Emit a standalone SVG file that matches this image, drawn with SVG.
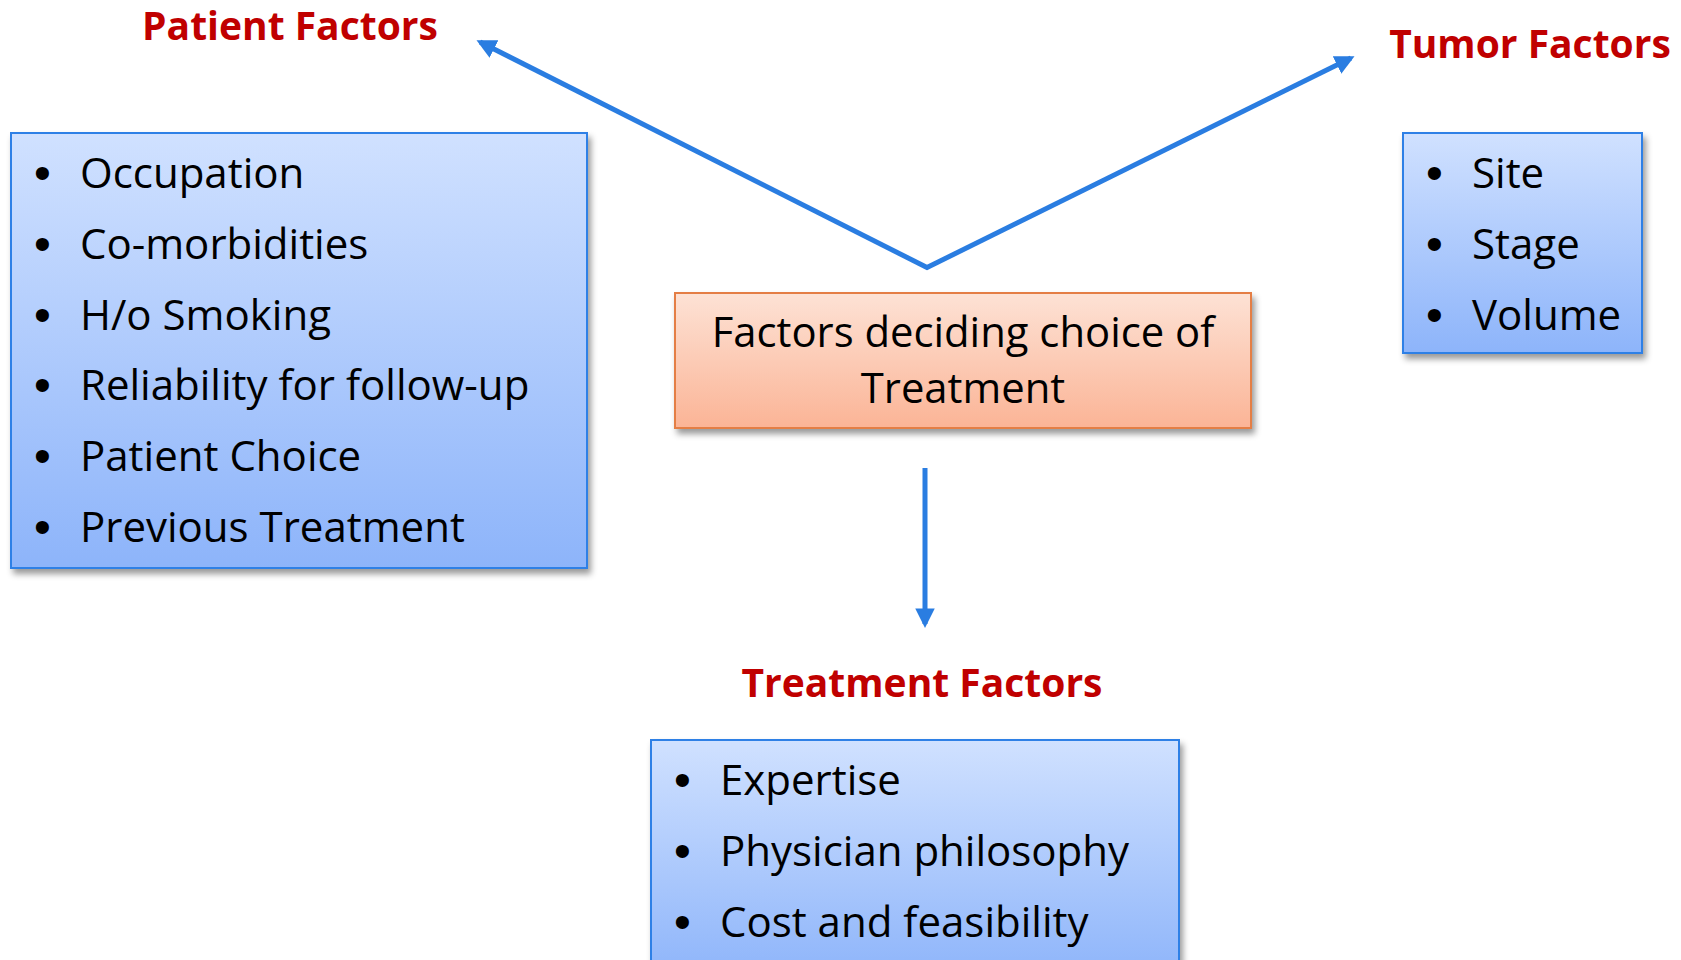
<svg xmlns="http://www.w3.org/2000/svg" width="1681" height="960" viewBox="0 0 1681 960">
  <style>
    .title { font-family: "Open Sans", "Liberation Sans", sans-serif; font-weight: bold; font-size: 39px; fill: #c00000; text-anchor: middle; }
    .item { font-family: "Open Sans", "Liberation Sans", sans-serif; font-size: 42px; fill: #000000; }
    .bullet { font-family: "Liberation Sans", Arial, sans-serif; font-size: 48px; fill: #000000; }
    .center { font-family: "Open Sans", "Liberation Sans", sans-serif; font-size: 41.8px; fill: #000000; text-anchor: middle; }
    .listbox { fill: url(#blueGrad); stroke: #2f80e6; stroke-width: 2; filter: url(#shadow); }
    .mainbox { fill: url(#peachGrad); stroke: #e47e45; stroke-width: 2; filter: url(#shadow); }
    .conn { stroke: #2a7de1; stroke-width: 5; fill: none; marker-end: url(#head); }
  </style>
  <defs>
    <linearGradient id="blueGrad" x1="0" y1="0" x2="0" y2="1">
      <stop offset="0" stop-color="#d0e1ff"/>
      <stop offset="1" stop-color="#8db4fa"/>
    </linearGradient>
    <linearGradient id="peachGrad" x1="0" y1="0" x2="0" y2="1">
      <stop offset="0" stop-color="#fde2d5"/>
      <stop offset="1" stop-color="#fbb496"/>
    </linearGradient>
    <filter id="shadow" x="-10%" y="-10%" width="125%" height="130%">
      <feDropShadow dx="3" dy="5" stdDeviation="3" flood-color="#000000" flood-opacity="0.4"/>
    </filter>
    <marker id="head" viewBox="0 0 10 10" refX="8" refY="5" markerWidth="3.9" markerHeight="3.9" orient="auto" markerUnits="strokeWidth">
      <path d="M0,0 L10,5 L0,10 Z" fill="#2a7de1"/>
    </marker>
  </defs>

  <!-- connectors from the central node -->
  <g id="connectors">
    <line class="conn" x1="928" y1="268" x2="480" y2="42"/>
    <line class="conn" x1="926" y1="268" x2="1351" y2="58"/>
    <line class="conn" x1="925" y1="468" x2="925" y2="624"/>
  </g>

  <!-- section headings -->
  <g id="label-patient">
    <text class="title" x="290" y="40">Patient Factors</text>
  </g>
  <g id="label-tumor">
    <text class="title" x="1530" y="58">Tumor Factors</text>
  </g>
  <g id="label-treatment">
    <text class="title" x="922" y="697">Treatment Factors</text>
  </g>

  <!-- patient factors list -->
  <g id="patient-factors">
    <rect class="listbox" x="11" y="133" width="576" height="435"/>
    <g class="bullet">
      <text x="34" y="189">•</text>
      <text x="34" y="260">•</text>
      <text x="34" y="331">•</text>
      <text x="34" y="401">•</text>
      <text x="34" y="472">•</text>
      <text x="34" y="543">•</text>
    </g>
    <g class="item">
      <text x="80" y="188">Occupation</text>
      <text x="80" y="259">Co-morbidities</text>
      <text x="80" y="330">H/o Smoking</text>
      <text x="80" y="400">Reliability for follow-up</text>
      <text x="80" y="471">Patient Choice</text>
      <text x="80" y="542">Previous Treatment</text>
    </g>
  </g>

  <!-- tumor factors list -->
  <g id="tumor-factors">
    <rect class="listbox" x="1403" y="133" width="239" height="220"/>
    <g class="bullet">
      <text x="1426" y="189">•</text>
      <text x="1426" y="260">•</text>
      <text x="1426" y="331">•</text>
    </g>
    <g class="item">
      <text x="1472" y="188">Site</text>
      <text x="1472" y="259">Stage</text>
      <text x="1472" y="330">Volume</text>
    </g>
  </g>

  <!-- central node -->
  <g id="main-node">
    <rect class="mainbox" x="675" y="293" width="576" height="135"/>
    <text class="center" x="963" y="347">Factors deciding choice of</text>
    <text class="center" x="963" y="403">Treatment</text>
  </g>

  <!-- treatment factors list -->
  <g id="treatment-factors">
    <rect class="listbox" x="651" y="740" width="528" height="240"/>
    <g class="bullet">
      <text x="674" y="796">•</text>
      <text x="674" y="867">•</text>
      <text x="674" y="938">•</text>
    </g>
    <g class="item">
      <text x="720" y="795">Expertise</text>
      <text x="720" y="866">Physician philosophy</text>
      <text x="720" y="937">Cost and feasibility</text>
    </g>
  </g>
</svg>
